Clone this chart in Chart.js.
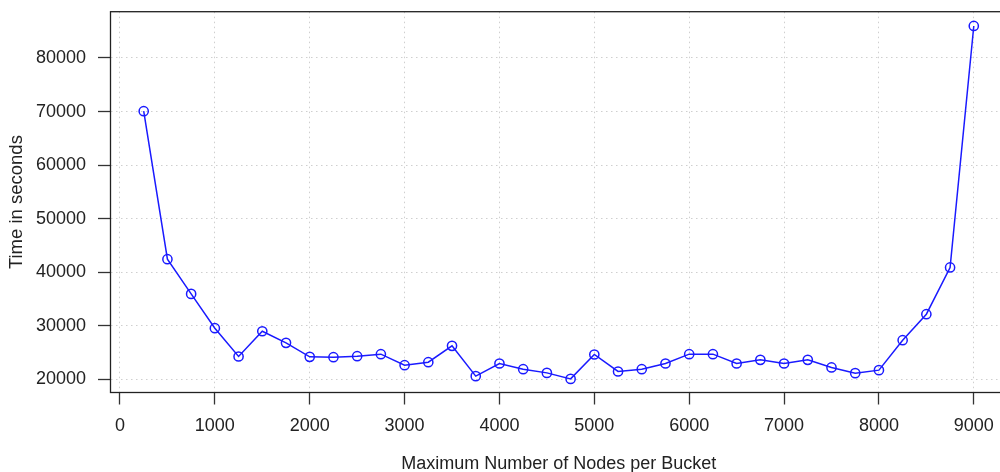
<!DOCTYPE html>
<html>
<head>
<meta charset="utf-8">
<script src="https://cdn.jsdelivr.net/npm/chart.js@4/dist/chart.umd.min.js"></script>
<style>
html,body{margin:0;padding:0;background:#fff;overflow:hidden;width:1000px;height:472px;}
#wrap{position:absolute;left:0;top:0;width:1010px;height:480px;}
</style>
</head>
<body>
<div id="wrap"><canvas id="c" width="1010" height="480"></canvas></div>
<script>
const nodesPerBucket = [250,500,750,1000,1250,1500,1750,2000,2250,2500,2750,3000,3250,3500,3750,4000,4250,4500,4750,5000,5250,5500,5750,6000,6250,6500,6750,7000,7250,7500,7750,8000,8250,8500,8750,9000];
const timeSeconds = [70060,42440,35970,29570,24290,29000,26830,24220,24160,24350,24720,22670,23230,26270,20620,22980,21920,21230,20110,24660,21490,21920,22980,24720,24720,22980,23660,22980,23660,22240,21180,21740,27330,32180,40900,85970];
const xTickValues = [0,1000,2000,3000,4000,5000,6000,7000,8000,9000];
const yTickValues = [20000,30000,40000,50000,60000,70000,80000];
const xLabel = 'Maximum Number of Nodes per Bucket';
const yLabel = 'Time in seconds';

const FONT = "'Liberation Sans', Arial, Helvetica, sans-serif";

const boxPlugin = {
  id: 'box',
  afterDraw(chart) {
    const a = chart.chartArea, ctx = chart.ctx;
    ctx.save();
    ctx.strokeStyle = '#222';
    ctx.lineWidth = 1.3;
    ctx.strokeRect(a.left, a.top, a.right - a.left, a.bottom - a.top);
    ctx.restore();
  }
};

new Chart(document.getElementById('c'), {
  type: 'line',
  data: {
    datasets: [{
      data: nodesPerBucket.map((x, i) => ({x: x, y: timeSeconds[i]})),
      borderColor: '#1a1aff',
      borderWidth: 1.5,
      pointRadius: 4.6,
      pointBorderWidth: 1.5,
      pointBackgroundColor: 'rgba(0,0,0,0)',
      pointBorderColor: '#1a1aff',
      tension: 0,
      fill: false
    }]
  },
  options: {
    responsive: false,
    maintainAspectRatio: false,
    animation: false,
    events: [],
    layout: {autoPadding: false, padding: {left: 0, right: 3, top: 11.7, bottom: 0}},
    plugins: {legend: {display: false}, title: {display: false}, tooltip: {enabled: false}},
    scales: {
      x: {
        type: 'linear',
        min: -100,
        max: 9350,
        afterBuildTicks(s) { s.ticks = xTickValues.map(v => ({value: v})); },
        afterFit(s) { s.height = 480 - 392.5; s.paddingLeft = 0; s.paddingRight = 0; s.paddingTop = 0; s.paddingBottom = 0; },
        ticks: {
          color: '#222',
          font: {family: FONT, size: 18},
          padding: 11,
          maxRotation: 0,
          autoSkip: false,
          callback: v => String(v)
        },
        grid: {
          color: '#cfcfcf',
          lineWidth: 1,
          drawTicks: true,
          tickLength: 12,
          tickColor: '#333',
          tickWidth: 1.3
        },
        border: {display: false, dash: [1.5, 3.5]},
        title: {
          display: true,
          text: xLabel,
          color: '#222',
          font: {family: FONT, size: 18},
          padding: {top: 0, bottom: 5}
        }
      },
      y: {
        type: 'linear',
        min: 17568,
        max: 88632,
        afterBuildTicks(s) { s.ticks = yTickValues.map(v => ({value: v})); },
        afterFit(s) { s.width = 110.5; s.paddingLeft = 0; s.paddingRight = 0; s.paddingTop = 0; s.paddingBottom = 0; },
        ticks: {
          color: '#222',
          font: {family: FONT, size: 18},
          padding: 12,
          autoSkip: false,
          callback: v => String(v)
        },
        grid: {
          color: '#cfcfcf',
          lineWidth: 1,
          drawTicks: true,
          tickLength: 12.5,
          tickColor: '#333',
          tickWidth: 1.3
        },
        border: {display: false, dash: [1.5, 3.5]},
        title: {
          display: true,
          text: yLabel,
          color: '#222',
          font: {family: FONT, size: 18.5},
          padding: {top: 6, bottom: 0}
        }
      }
    }
  },
  plugins: [boxPlugin]
});
</script>
</body>
</html>
